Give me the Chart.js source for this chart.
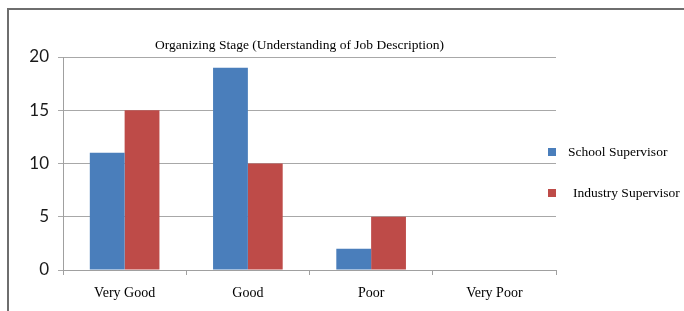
<!DOCTYPE html>
<html>
<head>
<meta charset="utf-8">
<script src="https://cdn.jsdelivr.net/npm/chart.js@4.4.0/dist/chart.umd.min.js"></script>
<style>
  html, body { margin: 0; padding: 0; background: #fff; }
  #wrap { position: relative; width: 684px; height: 311px; overflow: hidden; }
  #frame { position: absolute; left: 7px; top: 8px; width: 700px; height: 320px;
           border-top: 2px solid #6e6e6e; border-left: 2px solid #6e6e6e; }
  canvas { position: absolute; left: 0; top: 0; }
</style>
</head>
<body>
<div id="wrap">
  <div id="frame"></div>
  <canvas id="chart" width="684" height="311"></canvas>
</div>
<script>
const title = 'Organizing Stage (Understanding of Job Description)';
const categories = ['Very Good', 'Good', 'Poor', 'Very Poor'];
const schoolValues = [11, 19, 2, 0];
const industryValues = [15, 10, 5, 0];
const seriesNames = ['School Supervisor', 'Industry Supervisor'];
const yTicks = [0, 5, 10, 15, 20];

const serif = '"Liberation Serif", "Times New Roman", serif';

// title + legend drawn by hand so they sit where the original puts them
const extras = {
    id: 'extras',
    afterDraw(chart) {
        const c = chart.ctx;
        const area = chart.chartArea;
        c.save();
        c.fillStyle = '#000';
        c.font = '13.5px ' + serif;
        c.textAlign = 'center';
        c.textBaseline = 'middle';
        c.fillText(title, (area.left + area.right) / 2 - 10, 45);

        c.textAlign = 'left';
        const rows = [152, 193];
        const textX = [568, 573];
        chart.data.datasets.forEach((ds, i) => {
            c.fillStyle = ds.backgroundColor;
            c.fillRect(548, rows[i] - 4, 8, 8);
            c.fillStyle = '#000';
            c.fillText(ds.label, textX[i], rows[i]);
        });
        c.restore();
    }
};

const ctx = document.getElementById('chart').getContext('2d');

const chart = new Chart(ctx, {
    type: 'bar',
    data: {
        labels: categories,
        datasets: [{
            label: seriesNames[0],
            data: schoolValues,
            backgroundColor: '#4a7ebb'
        }, {
            label: seriesNames[1],
            data: industryValues,
            backgroundColor: '#be4b48'
        }]
    },
    options: {
        responsive: false,
        animation: false,
        devicePixelRatio: 1,
        layout: { padding: { left: 0, top: 57, right: 128, bottom: 0 } },
        plugins: {
            legend: { display: false },
            title: { display: false },
            tooltip: { enabled: false }
        },
        datasets: {
            bar: { categoryPercentage: 0.565, barPercentage: 1.0 }
        },
        scales: {
            x: {
                offset: true,
                afterFit(scale) { scale.height = 41; },
                grid: {
                    offset: true,
                    drawOnChartArea: false,
                    drawTicks: true,
                    tickLength: 5,
                    color: '#a0a0a0'
                },
                border: { color: '#a0a0a0', width: 1 },
                ticks: {
                    color: '#000',
                    padding: 10,
                    font: { family: serif, size: 14 }
                }
            },
            y: {
                min: 0,
                max: 20,
                afterFit(scale) { scale.width = 63; },
                afterBuildTicks(scale) { scale.ticks = yTicks.map(v => ({ value: v })); },
                grid: {
                    color: '#a8a8a8',
                    tickLength: 5
                },
                border: { color: '#a0a0a0', width: 1 },
                ticks: {
                    color: '#1a1a1a',
                    padding: 9,
                    font: { family: 'Lato, "Open Sans", sans-serif', size: 17 }
                }
            }
        }
    },
    plugins: [extras]
});
</script>
</body>
</html>
